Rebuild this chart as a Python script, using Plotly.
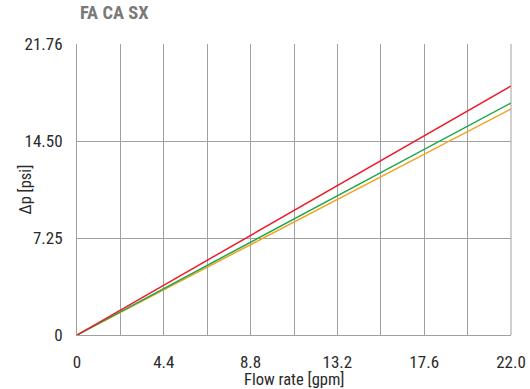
import plotly.graph_objects as go

flow = [0, 4.4, 8.8, 13.2, 17.6, 22.0]
dp_red = [0, 3.72, 7.45, 11.17, 14.90, 18.62]
dp_green = [0, 3.47, 6.94, 10.41, 13.88, 17.35]
dp_orange = [0, 3.38, 6.76, 10.14, 13.52, 16.90]
x_ticks = [0, 4.4, 8.8, 13.2, 17.6, 22.0]
x_tick_labels = ["0", "4.4", "8.8", "13.2", "17.6", "22.0"]
y_ticks = [0, 7.25, 14.50, 21.76]
y_tick_labels = ["0", "7.25", "14.50", "21.76"]

font = "Roboto Condensed, Liberation Sans Narrow, sans-serif"
tick_font = dict(family=font, size=17, color="#2a2a2a")

W, H = 530, 389
fig = go.Figure()
for y, c in [(dp_orange, "#f5a01f"), (dp_green, "#1ba84c"), (dp_red, "#ec1c2a")]:
    fig.add_trace(go.Scatter(x=flow, y=y, mode="lines", line=dict(color=c, width=1.5),
                             showlegend=False, hoverinfo="skip"))

fig.update_layout(
    width=W, height=H,
    margin=dict(l=77, r=19, t=44, b=54),
    paper_bgcolor="white", plot_bgcolor="white",
    font=dict(family=font, size=17, color="#2a2a2a"),
    title=dict(text="<b>FA CA SX</b>", x=80/W, xanchor="left", y=1 - 13/H, yanchor="middle",
               font=dict(family=font, size=18.5, color="#7a7a7a")),
    xaxis=dict(range=[0, 22.0], tickvals=x_ticks, ticktext=x_tick_labels, tickfont=tick_font,
               showgrid=True, gridcolor="#a0a0a0", gridwidth=1,
               minor=dict(dtick=2.2, showgrid=True, gridcolor="#a0a0a0", gridwidth=1),
               showline=True, linecolor="#a0a0a0", zeroline=False, automargin=False,
               ticks="outside", ticklen=12, tickcolor="rgba(0,0,0,0)"),
    yaxis=dict(range=[0, 21.76], tickvals=y_ticks, ticktext=y_tick_labels, tickfont=tick_font,
               showgrid=True, gridcolor="#a0a0a0", gridwidth=1,
               showline=True, linecolor="#a0a0a0", zeroline=False, automargin=False,
               ticks="outside", ticklen=10, tickcolor="rgba(0,0,0,0)"),
    annotations=[
        dict(text="Flow rate [gpm]", xref="paper", yref="paper", x=(294 - 77) / 434, y=-45/291,
             xanchor="center", yanchor="middle", showarrow=False, font=dict(family=font, size=16.5)),
        dict(text="Δp [psi]", xref="paper", yref="paper", x=-52/434, y=0.5, textangle=-90,
             xanchor="center", yanchor="middle", showarrow=False, font=dict(family=font, size=16.5)),
    ],
)
fig.add_shape(type="line", xref="paper", yref="paper", x0=1, x1=1, y0=0, y1=1,
              line=dict(color="#a0a0a0", width=1))
fig.write_html("out.html", config={"displayModeBar": False},
               post_script="document.body.style.margin='0';")
